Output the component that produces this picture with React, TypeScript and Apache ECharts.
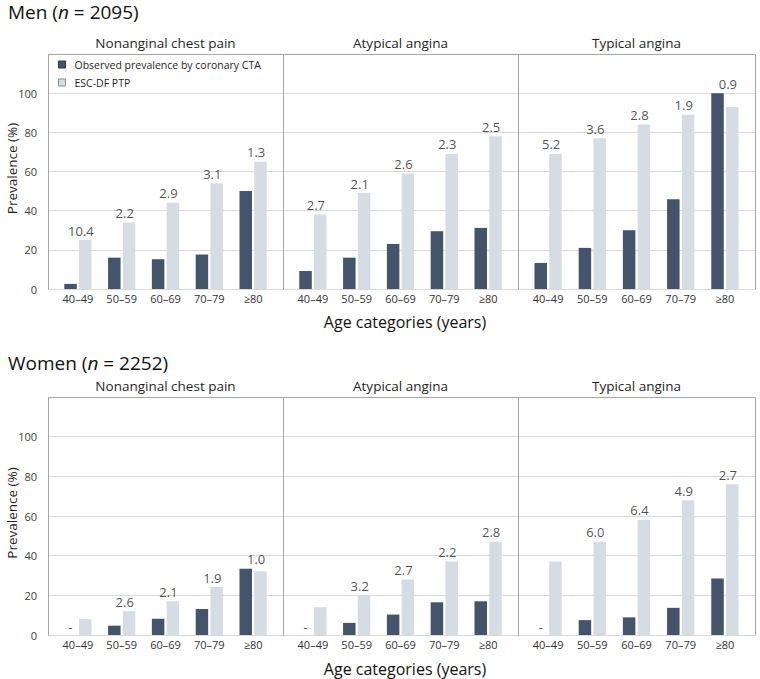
import React, { useEffect, useRef } from "react";
import * as echarts from "echarts";

const categories = ["40–49", "50–59", "60–69", "70–79", "≥80"];
const panelTitles = ["Nonanginal chest pain", "Atypical angina", "Typical angina"];
const seriesNames = ["Observed prevalence by coronary CTA", "ESC-DF PTP"];
const yTicks = [0, 20, 40, 60, 80, 100];

const menObserved = [
  [2.6, 16, 15.2, 17.6, 50],
  [9.2, 16, 23, 29.5, 31.2],
  [13.3, 21, 30, 45.8, 100],
];
const menPTP = [
  [25, 34, 44, 54, 65],
  [38, 49, 59, 69, 78],
  [69, 77, 84, 89, 93],
];
const menRatio = [
  ["10.4", "2.2", "2.9", "3.1", "1.3"],
  ["2.7", "2.1", "2.6", "2.3", "2.5"],
  ["5.2", "3.6", "2.8", "1.9", "0.9"],
];

const womenObserved = [
  [null, 4.7, 8.2, 13.1, 33.4],
  [null, 6.1, 10.3, 16.5, 17],
  [null, 7.5, 8.9, 13.7, 28.5],
];
const womenPTP = [
  [8, 12, 17, 24.2, 32.1],
  [14, 20, 28, 37, 47],
  [37, 47, 58, 68, 76],
];
const womenRatio = [
  [null, "2.6", "2.1", "1.9", "1.0"],
  [null, "3.2", "2.7", "2.2", "2.8"],
  [null, "6.0", "6.4", "4.9", "2.7"],
];

const FONT = "'Open Sans', 'Noto Sans', sans-serif";
const DARK = "#44546A";
const LIGHT = "#D6DCE4";
const BORDER = "#A6A6A6";
const GRIDLINE = "#D9D9D9";
const TEXT = "#1F1F1F";

const boxX = [
  [48, 283],
  [283, 518],
  [518, 755],
];
const PAD = 8;

const sections = [
  {
    title: "Men",
    n: "2095",
    titleY: 14,
    panelTitleY: 43,
    top: 54,
    bottom: 289,
    axisTitleY: 322,
    obs: menObserved,
    ptp: menPTP,
    ratio: menRatio,
  },
  {
    title: "Women",
    n: "2252",
    titleY: 365,
    panelTitleY: 386,
    top: 397,
    bottom: 635,
    axisTitleY: 669,
    obs: womenObserved,
    ptp: womenPTP,
    ratio: womenRatio,
  },
];

export default function App() {
  const ref = useRef<HTMLDivElement>(null);

  useEffect(() => {
    if (!ref.current) return;
    const chart = echarts.init(ref.current, undefined, { renderer: "svg" });

    const grid: any[] = [];
    const xAxis: any[] = [];
    const yAxis: any[] = [];
    const series: any[] = [];
    const graphic: any[] = [];

    sections.forEach((sec) => {
      graphic.push({
        type: "text",
        left: 8,
        top: sec.titleY - 12,
        z: 20,
        style: {
          text: `{a|${sec.title} (}{i|n}{a| = ${sec.n})}`,
          rich: {
            a: { fontSize: 19, fontFamily: FONT, fill: "#111" },
            i: { fontSize: 19, fontFamily: FONT, fontStyle: "italic", fill: "#111" },
          },
        },
      });
      graphic.push({
        type: "text",
        x: 405,
        y: sec.axisTitleY,
        z: 20,
        style: {
          text: "Age categories (years)",
          fontSize: 16,
          fontFamily: FONT,
          fill: "#111",
          align: "center",
          verticalAlign: "middle",
        },
      });
      graphic.push({
        type: "text",
        x: 11.5,
        y: (sec.top + sec.bottom) / 2 - 3,
        rotation: Math.PI / 2,
        z: 20,
        style: {
          text: "Prevalence (%)",
          fontSize: 13.5,
          fontFamily: FONT,
          fill: TEXT,
          align: "center",
          verticalAlign: "middle",
        },
      });

      boxX.forEach(([x0, x1], pi) => {
        graphic.push({
          type: "text",
          x: (x0 + x1) / 2,
          y: sec.panelTitleY,
          z: 20,
          style: {
            text: panelTitles[pi],
            fontSize: 13.5,
            fontFamily: FONT,
            fill: TEXT,
            align: "center",
            verticalAlign: "middle",
          },
        });
        graphic.push({
          type: "polyline",
          z: 15,
          silent: true,
          shape: {
            points: [
              [x0 + 0.5, sec.bottom + 0.5],
              [x0 + 0.5, sec.top + 0.5],
              [x1 + 0.5, sec.top + 0.5],
              [x1 + 0.5, sec.bottom + 0.5],
            ],
          },
          style: { stroke: BORDER, lineWidth: 1, fill: null },
        });

        const showY = pi === 0;
        const fIdx = grid.length;
        grid.push({
          left: x0,
          width: x1 - x0,
          top: sec.top,
          height: sec.bottom - sec.top,
          containLabel: false,
        });
        xAxis.push({ type: "value", gridIndex: fIdx, show: false, min: 0, max: 1 });
        yAxis.push({
          type: "value",
          gridIndex: fIdx,
          min: 0,
          max: 120,
          interval: 20,
          axisLine: { show: false },
          axisTick: { show: false },
          splitLine: { show: true, lineStyle: { color: GRIDLINE, width: 1 } },
          axisLabel: {
            show: showY,
            fontSize: 11,
            fontFamily: FONT,
            color: "#404040",
            margin: 11,
            formatter: (v: number) => (yTicks.includes(v) ? String(v) : ""),
          },
        });

        const dIdx = grid.length;
        grid.push({
          left: x0 + PAD,
          width: x1 - x0 - 2 * PAD,
          top: sec.top,
          height: sec.bottom - sec.top,
          containLabel: false,
        });
        xAxis.push({
          type: "category",
          gridIndex: dIdx,
          data: categories,
          axisLine: { show: false },
          axisTick: { show: false },
          splitLine: { show: false },
          axisLabel: {
            fontSize: 11,
            fontFamily: FONT,
            color: "#333",
            margin: 4,
            interval: 0,
          },
        });
        yAxis.push({ type: "value", gridIndex: dIdx, min: 0, max: 120, show: false });

        const obs = sec.obs[pi];
        const ptp = sec.ptp[pi];
        const ratio = sec.ratio[pi];

        series.push({
          type: "bar",
          name: seriesNames[0],
          xAxisIndex: dIdx,
          yAxisIndex: dIdx,
          barWidth: 12.5,
          barGap: "18%",
          itemStyle: { color: DARK },
          data: obs.map((v) =>
            v == null
              ? {
                  value: 0,
                  label: {
                    show: true,
                    position: "top",
                    distance: 2,
                    formatter: "-",
                    fontSize: 12,
                    fontFamily: FONT,
                    color: "#444",
                  },
                }
              : v
          ),
        });
        series.push({
          type: "bar",
          name: seriesNames[1],
          xAxisIndex: dIdx,
          yAxisIndex: dIdx,
          barWidth: 12.5,
          barGap: "18%",
          itemStyle: { color: LIGHT },
          data: ptp,
        });
        series.push({
          type: "scatter",
          name: "ratio",
          xAxisIndex: dIdx,
          yAxisIndex: dIdx,
          symbolSize: 0,
          silent: true,
          data: categories
            .map((c, i) =>
              ratio[i] == null
                ? null
                : {
                    value: [i, Math.max(obs[i] ?? 0, ptp[i])],
                    label: { formatter: ratio[i] as string },
                  }
            )
            .filter((d) => d !== null),
          label: {
            show: true,
            position: "top",
            distance: 3,
            offset: [3, 0],
            fontSize: 13,
            fontFamily: FONT,
            color: TEXT,
          },
        });
      });
    });

    chart.setOption({
      animation: false,
      backgroundColor: "#ffffff",
      grid,
      xAxis,
      yAxis,
      series,
      graphic,
      legend: {
        left: 58,
        top: 59,
        orient: "vertical",
        itemWidth: 7,
        itemHeight: 7,
        itemGap: 7,
        icon: "rect",
        selectedMode: false,
        padding: 0,
        textStyle: {
          fontSize: 10.5,
          fontFamily: FONT,
          color: TEXT,
          padding: [0, 0, 0, 4],
        },
        data: [
          { name: seriesNames[0], itemStyle: { color: DARK, borderColor: "#2B3647", borderWidth: 1 } },
          { name: seriesNames[1], itemStyle: { color: LIGHT, borderColor: "#8C8C8C", borderWidth: 1 } },
        ],
      },
    });

    return () => chart.dispose();
  }, []);

  return (
    <div
      ref={ref}
      style={{ position: "absolute", left: 0, top: 0, width: 760, height: 679 }}
    />
  );
}
